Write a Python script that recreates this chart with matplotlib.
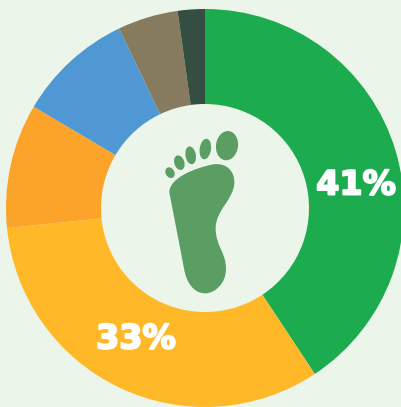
import matplotlib
matplotlib.use("Agg")
import matplotlib.pyplot as plt
import matplotlib.patheffects as pe
from matplotlib.patches import Ellipse, PathPatch
from matplotlib.path import Path

# shares going clockwise from the top
shares = [40.7, 32.7, 10.1, 9.4, 4.9, 2.2]
colors = ['#1cab4f', '#ffb928', '#fca32a', '#4f98d3', '#867b5e', '#344e41']
pct_labels = ['41%', '33%']

BG = '#ecf5ea'
FOOT = '#5a9e63'
W, H = 401, 407


# foot icon was measured on a 3x crop starting at (150, 115)
def foot_xy(x, y):
    return 150 + x / 3, H - (115 + y / 3)


fig = plt.figure(figsize=(W / 100, H / 100), dpi=100, facecolor=BG)
ax = fig.add_axes([0, 0, 1, 1])

ax.pie(shares, colors=colors, startangle=90, counterclock=False,
       center=(205, H - 208), radius=199,
       wedgeprops={'width': 95, 'linewidth': 0})
ax.set_xlim(0, W)
ax.set_ylim(0, H)
ax.set_aspect('equal')
ax.axis('off')

# percentage labels, only the two big slices have one
# the stroke makes DejaVu bold look closer to the heavier original font
heavy = [pe.withStroke(linewidth=1.4, foreground='white')]
ax.text(356, H - 185, pct_labels[0], color='white', fontsize=24, fontweight='bold',
        ha='center', va='center', path_effects=heavy)
ax.text(136, H - 339, pct_labels[1], color='white', fontsize=24, fontweight='bold',
        ha='center', va='center', path_effects=heavy)

# toes: x, y, width, height, angle
toes = [
    (231, 92, 66, 88, -8),
    (166, 102, 34, 62, -8),
    (122, 121, 31, 54, 10),
    (88, 143, 30, 45, 18),
    (60, 173, 26, 34, 30),
]
for x, y, w, h, angle in toes:
    ax.add_patch(Ellipse(foot_xy(x, y), w / 3, h / 3, angle=angle, color=FOOT, lw=0))

# sole outline
sole = [
    (Path.MOVETO, (58, 232)),
    (Path.CURVE4, (58, 190)),
    (Path.CURVE4, (130, 160)),
    (Path.CURVE4, (190, 148)),
    (Path.CURVE4, (235, 142)),
    (Path.CURVE4, (255, 175)),
    (Path.CURVE4, (253, 205)),
    (Path.CURVE4, (250, 255)),
    (Path.CURVE4, (197, 285)),
    (Path.CURVE4, (197, 340)),
    (Path.CURVE4, (197, 395)),
    (Path.CURVE4, (228, 410)),
    (Path.CURVE4, (228, 462)),
    (Path.CURVE4, (228, 505)),
    (Path.CURVE4, (195, 535)),
    (Path.CURVE4, (165, 535)),
    (Path.CURVE4, (130, 535)),
    (Path.CURVE4, (108, 500)),
    (Path.CURVE4, (102, 460)),
    (Path.CURVE4, (87, 384)),
    (Path.CURVE4, (73, 308)),
    (Path.CURVE4, (58, 232)),
    (Path.CLOSEPOLY, (58, 232)),
]
codes = [c for c, _ in sole]
verts = [foot_xy(*p) for _, p in sole]
ax.add_patch(PathPatch(Path(verts, codes), facecolor=FOOT, lw=0))

fig.savefig('out.png', dpi=100, facecolor=BG)
plt.close(fig)
